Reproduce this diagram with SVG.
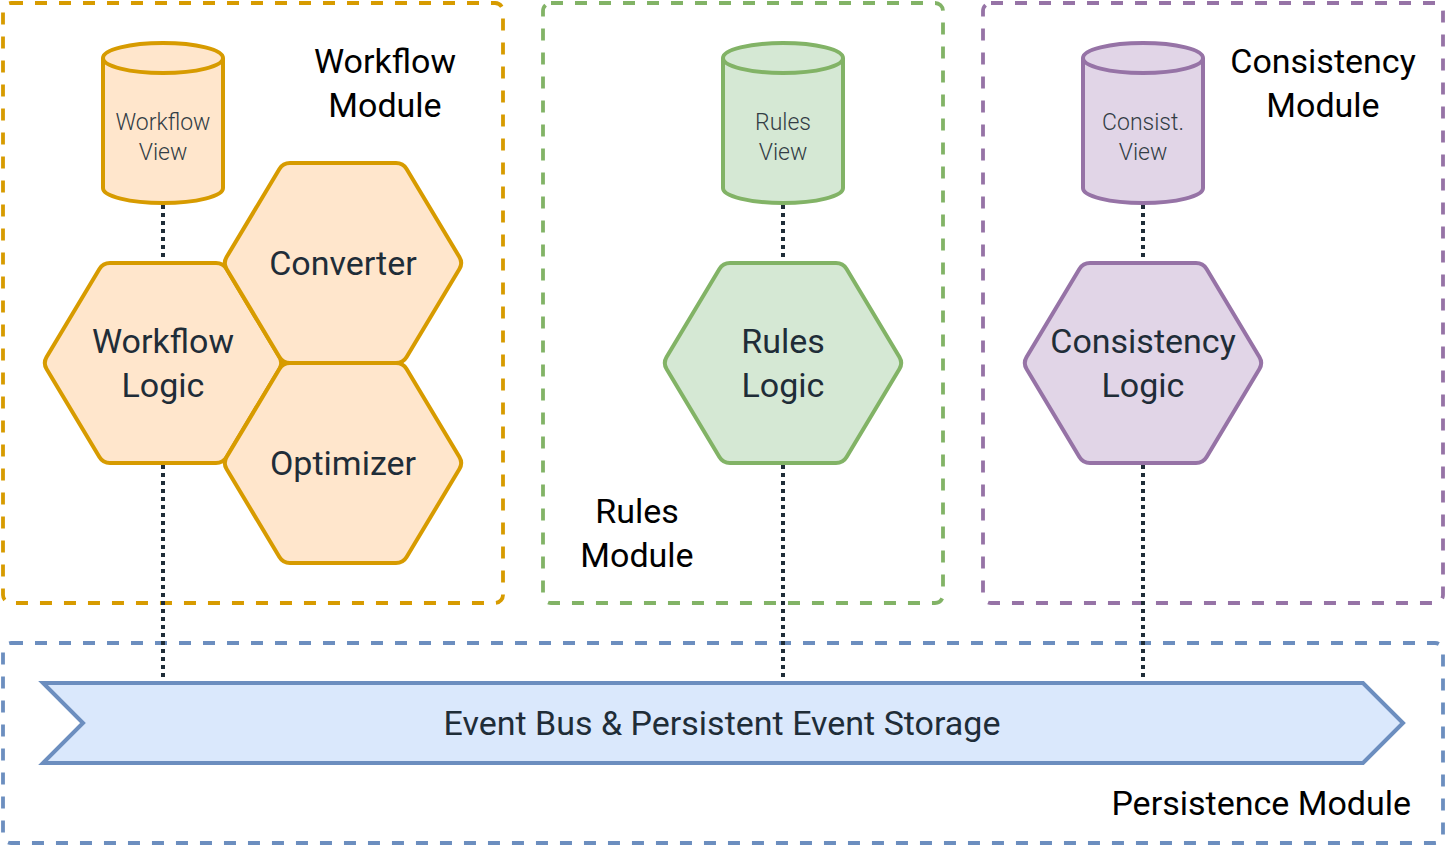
<svg xmlns="http://www.w3.org/2000/svg" width="1446" height="846" viewBox="0 0 1446 846">
<style>
.box{fill:none;stroke-width:3.8;stroke-dasharray:12 12}
.node{stroke-width:4;stroke-linejoin:round}
.orange{fill:#ffe6cc;stroke:#d79b00}
.green{fill:#d5e8d4;stroke:#82b366}
.purple{fill:#e1d5e7;stroke:#9673a6}
.blue{fill:#dae8fc;stroke:#6c8ebf}
.big{font-family:Roboto,"Liberation Sans",sans-serif;font-size:34px;fill:#1f2d38;text-anchor:middle}
.title{font-family:Roboto,"Liberation Sans",sans-serif;font-size:34px;fill:#000;text-anchor:middle}
.small{font-family:Roboto,"Liberation Sans",sans-serif;font-size:23px;fill:#333d45;text-anchor:middle;font-weight:300}
.conn{stroke:#1f2d38;stroke-width:4;stroke-dasharray:4 4;fill:none}
</style>
<defs>
<path id="hex" d="M3.6 94 Q0 100 3.6 106 L56.4 194 Q60 200 67 200 L173 200 Q180 200 183.6 194 L236.4 106 Q240 100 236.4 94 L183.6 6 Q180 0 173 0 L67 0 Q60 0 56.4 6 Z"/>
<g id="cyl">
<path d="M0 15 A60 15 0 0 1 120 15 V145 A60 15 0 0 1 0 145 Z"/>
<path d="M0 15 A60 15 0 0 0 120 15" fill="none"/>
</g>
</defs>
<g id="workflow-module">
<rect class="box" x="3" y="3" width="500" height="600" rx="8" stroke="#d79b00"/>
<text class="title" x="385" y="73">Workflow</text>
<text class="title" x="385" y="117">Module</text>
</g>
<g id="rules-module">
<rect class="box" x="543" y="3" width="400" height="600" rx="8" stroke="#82b366"/>
<text class="title" x="637" y="523">Rules</text>
<text class="title" x="637" y="567">Module</text>
</g>
<g id="consistency-module">
<rect class="box" x="983" y="3" width="460" height="600" rx="8" stroke="#9673a6"/>
<text class="title" x="1323" y="73">Consistency</text>
<text class="title" x="1323" y="117">Module</text>
</g>
<g id="persistence-module">
<rect class="box" x="3" y="643" width="1440" height="200" rx="8" stroke="#6c8ebf"/>
<text class="title" x="1411" y="815" style="text-anchor:end">Persistence Module</text>
</g>
<g id="event-bus">
<path class="node blue" d="M43 683 H1363 L1403 723 L1363 763 H43 L83 723 Z" style="stroke-linejoin:miter"/>
<text class="big" x="722" y="735">Event Bus &amp; Persistent Event Storage</text>
</g>
<g id="workflow-view">
<use href="#cyl" class="node orange" x="103" y="43"/>
<text class="small" x="163" y="130">Workflow</text>
<text class="small" x="163" y="160">View</text>
</g>
<g id="rules-view">
<use href="#cyl" class="node green" x="723" y="43"/>
<text class="small" x="783" y="130">Rules</text>
<text class="small" x="783" y="160">View</text>
</g>
<g id="consist-view">
<use href="#cyl" class="node purple" x="1083" y="43"/>
<text class="small" x="1143" y="130">Consist.</text>
<text class="small" x="1143" y="160">View</text>
</g>
<g id="workflow-logic">
<use href="#hex" class="node orange" x="43" y="263"/>
<text class="big" x="163" y="353">Workflow</text>
<text class="big" x="163" y="397">Logic</text>
</g>
<g id="converter">
<use href="#hex" class="node orange" x="223" y="163"/>
<text class="big" x="343" y="275">Converter</text>
</g>
<g id="optimizer">
<use href="#hex" class="node orange" x="223" y="363"/>
<text class="big" x="343" y="475">Optimizer</text>
</g>
<g id="rules-logic">
<use href="#hex" class="node green" x="663" y="263"/>
<text class="big" x="783" y="353">Rules</text>
<text class="big" x="783" y="397">Logic</text>
</g>
<g id="consistency-logic">
<use href="#hex" class="node purple" x="1023" y="263"/>
<text class="big" x="1143" y="353">Consistency</text>
<text class="big" x="1143" y="397">Logic</text>
</g>
<g id="connectors">
<line class="conn" x1="163" y1="205" x2="163" y2="261"/>
<line class="conn" x1="163" y1="465" x2="163" y2="681"/>
<line class="conn" x1="783" y1="205" x2="783" y2="261"/>
<line class="conn" x1="783" y1="465" x2="783" y2="681"/>
<line class="conn" x1="1143" y1="205" x2="1143" y2="261"/>
<line class="conn" x1="1143" y1="465" x2="1143" y2="681"/>
</g>
</svg>
